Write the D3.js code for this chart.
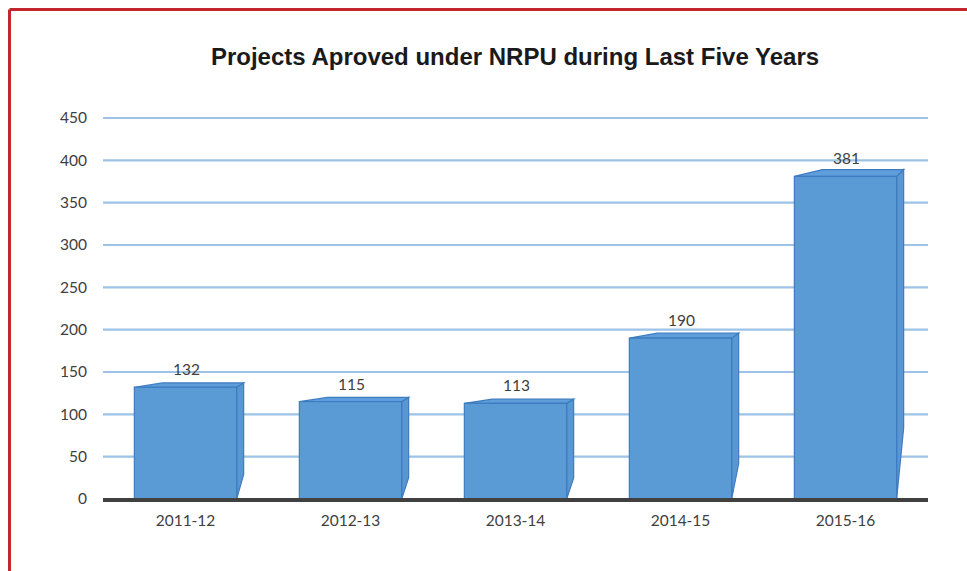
<!DOCTYPE html>
<html>
<head>
<meta charset="utf-8">
<script src="https://cdn.jsdelivr.net/npm/d3@7"></script>
<style>
  body { margin: 0; background: #fff; }
  svg { display: block; }
</style>
</head>
<body>
<svg id="chart" width="967" height="571"></svg>
<script>
const years = ["2011-12", "2012-13", "2013-14", "2014-15", "2015-16"];
const projects = [132, 115, 113, 190, 381];
const yTicks = [0, 50, 100, 150, 200, 250, 300, 350, 400, 450];

const svg = d3.select("#chart");
const margin = { left: 103, right: 39, top: 118, bottom: 72 };
const width = 967, height = 571;

// frame lines (red, top and left)
svg.append("line").attr("x1", 9.5).attr("x2", width).attr("y1", 9.5).attr("y2", 9.5)
  .attr("stroke", "#c1272d").attr("stroke-width", 3);
svg.append("line").attr("x1", 9.5).attr("x2", 9.5).attr("y1", 9.5).attr("y2", height)
  .attr("stroke", "#c1272d").attr("stroke-width", 3);

svg.append("text")
  .attr("x", 515).attr("y", 65)
  .attr("text-anchor", "middle")
  .style("font-family", "Liberation Sans, Arial, sans-serif")
  .style("font-weight", "bold")
  .style("font-size", "24px")
  .attr("fill", "#1a1a1a")
  .text("Projects Aproved under NRPU during Last Five Years");

const x = d3.scaleBand().domain(years)
  .range([margin.left, width - margin.right])
  .paddingInner(0.38).paddingOuter(0.19);
const y = d3.scaleLinear().domain([0, 450]).range([height - margin.bottom, margin.top]);

const font = "Lato, 'Open Sans', sans-serif";

// gridlines
const grid = svg.append("g");
grid.selectAll("line").data(yTicks.filter(d => d > 0)).join("line")
  .attr("x1", margin.left).attr("x2", width - margin.right)
  .attr("y1", d => y(d)).attr("y2", d => y(d))
  .attr("stroke", "#9dc3e6").attr("stroke-width", 2.2);

// y axis labels
const yAxis = svg.append("g")
  .attr("transform", `translate(${margin.left},0)`)
  .call(d3.axisLeft(y).tickValues(yTicks).tickSize(0).tickPadding(16));
yAxis.select(".domain").remove();
yAxis.selectAll("text")
  .style("font-family", font).style("font-size", "15.5px").attr("fill", "#404040");

// bars with a simple 3D look
const dx = 7;
const bars = svg.append("g").selectAll("g").data(years).join("g");
bars.each(function(cat, i) {
  const g = d3.select(this);
  const v = projects[i];
  const x0 = x(cat), x1 = x(cat) + x.bandwidth();
  const yt = y(v), yb = y(0);
  const h = yb - yt;
  const dy = -(3 + 0.012 * h);
  const sideBottom = yb - 0.22 * h;

  // side face
  g.append("path")
    .attr("d", `M${x1},${yt}L${x1 + dx},${yt + dy}L${x1 + dx},${sideBottom}L${x1},${yb}Z`)
    .attr("fill", "#5a97d2").attr("stroke", "#3d7cc0").attr("stroke-width", 1.2);
  // top face
  g.append("path")
    .attr("d", `M${x0},${yt}L${x0 + 28},${yt + dy}L${x1 + dx},${yt + dy}L${x1},${yt}Z`)
    .attr("fill", "#5f9edb").attr("stroke", "#3d7cc0").attr("stroke-width", 1.2);
  // front face
  g.append("rect")
    .attr("x", x0).attr("y", yt).attr("width", x1 - x0).attr("height", h)
    .attr("fill", "#5b9bd5").attr("stroke", "#3d7cc0").attr("stroke-width", 1.2);

  g.append("text")
    .attr("x", (x0 + x1) / 2 + 1).attr("y", yt - 12)
    .attr("text-anchor", "middle")
    .style("font-family", font).style("font-size", "15.5px")
    .attr("fill", "#404040")
    .text(v);
});

// baseline
svg.append("line")
  .attr("x1", margin.left).attr("x2", width - margin.right)
  .attr("y1", y(0) + 1).attr("y2", y(0) + 1)
  .attr("stroke", "#404040").attr("stroke-width", 4);

// x axis labels
const xAxis = svg.append("g")
  .attr("transform", `translate(0,${y(0)})`)
  .call(d3.axisBottom(x).tickSize(0).tickPadding(16));
xAxis.select(".domain").remove();
xAxis.selectAll("text")
  .style("font-family", font).style("font-size", "15.5px").attr("fill", "#404040");
</script>
</body>
</html>
